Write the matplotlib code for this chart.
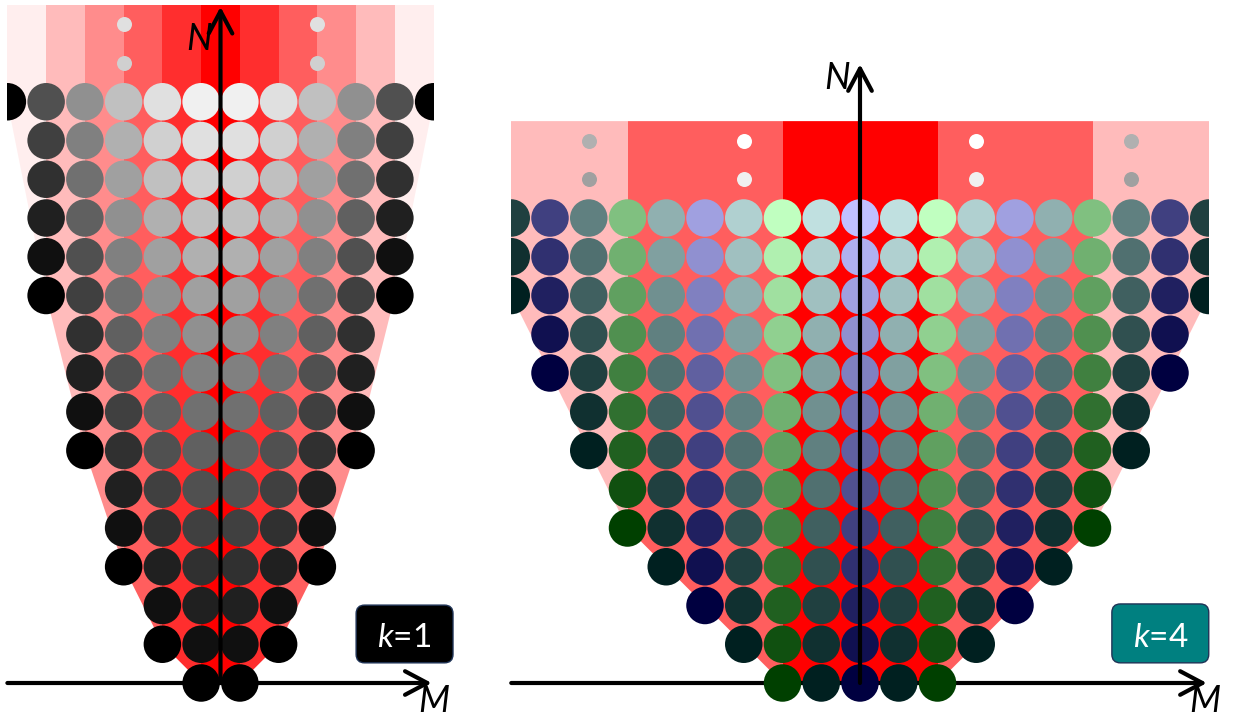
import matplotlib.pyplot as plt
import numpy as np
from matplotlib.patches import FancyArrowPatch, FancyBboxPatch, Polygon

plt.rcParams["mathtext.fontset"] = "custom"
plt.rcParams["mathtext.it"] = "Lato:italic"
plt.rcParams["mathtext.rm"] = "Lato"

# ---- k=1 panel -----------------------------------------------------------
# gray level of each circle, one list per row N = 0..15, centre outwards
# (columns sit at M = +-0.5, +-1.5, ...)
k1_gray = [
    [0],
    [16, 0],
    [32, 16],
    [48, 32, 0],
    [64, 48, 16],
    [80, 64, 32],
    [96, 80, 48, 0],
    [112, 96, 64, 16],
    [128, 112, 80, 32],
    [144, 128, 96, 48],
    [160, 144, 112, 64, 0],
    [176, 160, 128, 80, 16],
    [192, 176, 144, 96, 32],
    [208, 192, 160, 112, 48],
    [224, 208, 176, 128, 64],
    [240, 224, 192, 144, 80, 0],
]
k1_stripes = ["#ff0000", "#ff2e2e", "#ff5e5e", "#ff8c8c", "#ffbbbb", "#ffeeee"]  # |M| = 0..5
k1_edge_M = [0.5, 1.5, 2.5, 3.5, 4.5, 5.5]
k1_edge_N = [0, 1, 3, 6, 10, 15]
k1_dot_M = [2.5]
k1_dot_N = [16, 17]
k1_dot_colors = [["#d0d0d0", "#e0e0e0"]]

# ---- k=4 panel -----------------------------------------------------------
# brightness of each circle, rows N = 0..12, |M| = 0, 1, 2, ...
k4_level = [
    [0, 0, 0],
    [16, 16, 16, 0],
    [32, 32, 32, 16, 0],
    [48, 48, 48, 32, 16, 0],
    [64, 64, 64, 48, 32, 16, 0],
    [80, 80, 80, 64, 48, 32, 16],
    [96, 96, 96, 80, 64, 48, 32, 0],
    [112, 112, 112, 96, 80, 64, 48, 16],
    [128, 128, 128, 112, 96, 80, 64, 32, 0],
    [144, 144, 144, 128, 112, 96, 80, 48, 16],
    [160, 160, 160, 144, 128, 112, 96, 64, 32, 0],
    [176, 176, 176, 160, 144, 128, 112, 80, 48, 16],
    [192, 192, 192, 176, 160, 144, 128, 96, 64, 32],
]
k4_hue = ["blue", "teal", "green", "teal", "blue", "teal", "green", "teal", "blue", "teal"]
hue_tint = {"blue": (0, 0, 64), "teal": (0, 32, 32), "green": (0, 64, 0)}
k4_stripes = ["#ff0000", "#ff5e5e", "#ffbbbb"]  # width-4 stripes centred on M = 0, +-4, +-8
k4_edge_M = [2, 3, 4, 5, 6, 7, 8, 9]
k4_edge_N = [0, 1, 2, 3, 4, 6, 8, 10]
k4_dot_M = [3, 7]
k4_dot_N = [13, 14]
k4_dot_colors = [["#f0f0f0", "#ffffff"], ["#a0a0a0", "#b0b0b0"]]

W, H = 1234, 717
S = 38.75        # pixels per unit of M / N
Y0 = 683         # pixel row of N = 0 (from top)
DOT_S = 27.0 ** 2
SMALL_S = 10.8 ** 2


def make_axes(fig, cx, xlim, ylim):
    left = cx + xlim[0] * S
    bottom = (H - Y0) + ylim[0] * S
    ax = fig.add_axes([left / W, bottom / H, (xlim[1] - xlim[0]) * S / W, (ylim[1] - ylim[0]) * S / H])
    ax.set_xlim(*xlim)
    ax.set_ylim(*ylim)
    ax.axis("off")
    return ax


def draw_background(ax, edge_M, edge_N, stripes, width, top):
    right = list(zip(edge_M, edge_N)) + [(edge_M[-1] + 1, top)]
    left = [(-m, n) for m, n in reversed(right)]
    funnel = Polygon(right + left, closed=True, transform=ax.transData)
    for j, c in enumerate(stripes):
        centres = [0] if j == 0 else [-j * width, j * width]
        for cen in centres:
            span = ax.axvspan(cen - width / 2, cen + width / 2, color=c, lw=0, zorder=1)
            span.set_clip_path(funnel)


def draw_axes_arrows(ax, xr, ytop, n_lbl, m_lbl):
    style = "->,head_length=1.6,head_width=0.85"
    ax.add_patch(FancyArrowPatch((xr[0], 0), (xr[1], 0), arrowstyle=style, mutation_scale=10,
                                 lw=3, color="black", shrinkA=0, shrinkB=0, clip_on=False, zorder=2))
    ax.add_patch(FancyArrowPatch((0, 0), (0, ytop), arrowstyle=style, mutation_scale=10,
                                 lw=3, color="black", shrinkA=0, shrinkB=0, clip_on=False, zorder=5))
    ax.text(*n_lbl, "N", family="Lato", style="italic", fontsize=26, ha="center", va="baseline", zorder=6)
    ax.text(*m_lbl, "M", family="Lato", style="italic", fontsize=26, ha="center", va="baseline", zorder=6)


def draw_label(ax, x0, x1, y0, y1, text, fc):
    box = FancyBboxPatch((x0, y0), x1 - x0, y1 - y0, boxstyle="round,pad=0,rounding_size=0.22",
                         fc=fc, ec="#1f3356", lw=1, clip_on=False, zorder=6)
    ax.add_patch(box)
    ax.text((x0 + x1) / 2, y0 + 0.42, text, color="white", family="Lato", fontsize=24,
            ha="center", va="baseline", zorder=7)


fig = plt.figure(figsize=(W / 100, H / 100), dpi=100)

# ---------- k = 1 ----------
ax1 = make_axes(fig, 220.5, (-5.5, 5.5), (-0.6, 17.5))
draw_background(ax1, k1_edge_M, k1_edge_N, k1_stripes, 1, 17.5)
xs, ys, cs = [], [], []
for n, row in enumerate(k1_gray):
    for j, g in enumerate(row):
        for sgn in (-1, 1):
            xs.append(sgn * (j + 0.5))
            ys.append(n)
            cs.append((g / 255,) * 3)
ax1.scatter(xs, ys, s=DOT_S, c=cs, linewidths=0, zorder=3)
for m, cols in zip(k1_dot_M, k1_dot_colors):
    for n, c in zip(k1_dot_N, cols):
        ax1.scatter([-m, m], [n, n], s=SMALL_S, color=c, linewidths=0, zorder=3)
draw_axes_arrows(ax1, (-5.5, 5.45), 17.45, (-0.55, 16.34), (5.5, -0.74))
draw_label(ax1, 3.5, 6.0, 0.52, 2.01, r"$k$=1", "black")

# ---------- k = 4 ----------
ax2 = make_axes(fig, 860, (-9, 9), (-0.6, 14.5))
draw_background(ax2, k4_edge_M, k4_edge_N, k4_stripes, 4, 14.5)
xs, ys, cs = [], [], []
for n, row in enumerate(k4_level):
    for j, v in enumerate(row):
        tint = hue_tint[k4_hue[j]]
        col = tuple(min(v + t, 255) / 255 for t in tint)
        for sgn in ((1,) if j == 0 else (-1, 1)):
            xs.append(sgn * j)
            ys.append(n)
            cs.append(col)
ax2.scatter(xs, ys, s=DOT_S, c=cs, linewidths=0, zorder=3)
for m, cols in zip(k4_dot_M, k4_dot_colors):
    for n, c in zip(k4_dot_N, cols):
        ax2.scatter([-m, m], [n, n], s=SMALL_S, color=c, linewidths=0, zorder=3)
draw_axes_arrows(ax2, (-9, 8.95), 15.97, (-0.58, 15.33), (8.9, -0.74))
draw_label(ax2, 6.5, 9.0, 0.52, 2.04, r"$k$=4", "#008080")

fig.savefig("out.png", dpi=100, facecolor="white")
